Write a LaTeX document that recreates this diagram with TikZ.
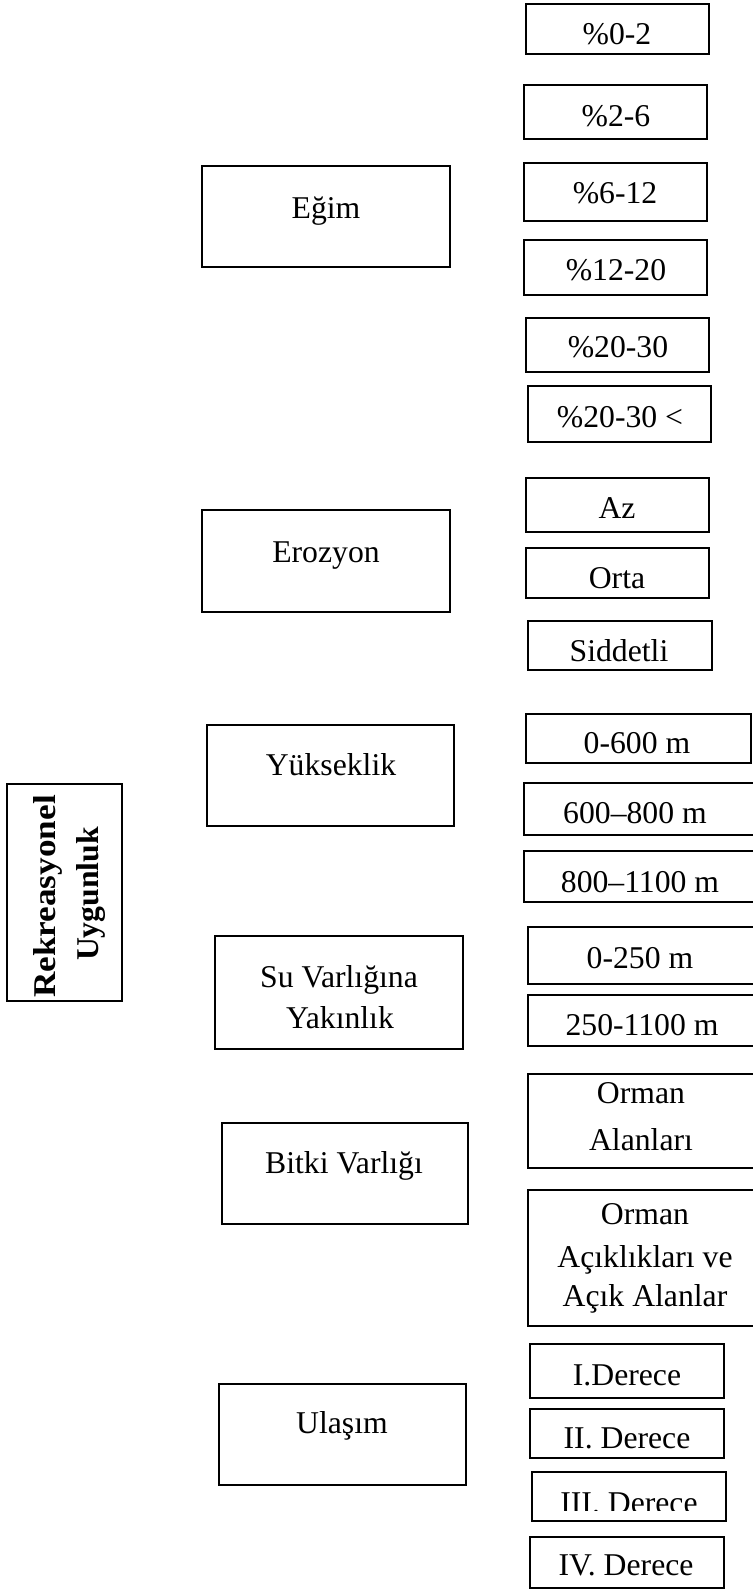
\documentclass[tikz,border=0pt]{standalone}
\usepackage{fontspec}
\usepackage{graphicx}
\setmainfont{Liberation Serif}
\tikzset{
  box/.style={draw=black, line width=0.6pt, inner sep=0pt, outer sep=0pt},
  txt/.style={font=\fontsize{15.85pt}{20pt}\selectfont, inner sep=0pt, anchor=base},
  btxt/.style={font=\fontsize{15.85pt}{20pt}\selectfont\bfseries, inner sep=0pt, anchor=base, rotate=90},
}
\newcommand\bx[5]{\node[box, minimum width={(#4-#2)*0.5pt}, minimum height={(#5-#3)*0.5pt}] (#1) at ({(#2+#4)/2},{(#3+#5)/2}) {};}
\begin{document}
\begin{tikzpicture}[x=0.5pt, y=-0.5pt]
\useasboundingbox (0,0) rectangle (753,1590);
% left column
\bx{rek}{7}{784}{122}{1001}
\bx{egim}{202}{166}{450}{267}
\bx{eroz}{202}{510}{450}{612}
\bx{yuk}{207}{725}{454}{826}
\bx{su}{215}{936}{463}{1049}
\bx{bitki}{222}{1123}{468}{1224}
\bx{ulasim}{219}{1384}{466}{1485}
% right column
\bx{e1}{526}{4}{709}{54}
\bx{e2}{524}{85}{707}{139}
\bx{e3}{524}{163}{707}{221}
\bx{e4}{524}{240}{707}{295}
\bx{e5}{526}{318}{709}{372}
\bx{e6}{528}{386}{711}{442}
\bx{r1}{526}{478}{709}{532}
\bx{r2}{526}{548}{709}{598}
\bx{r3}{528}{621}{712}{670}
\bx{y1}{526}{714}{751}{763}
\bx{y2}{524}{783}{760}{835}
\bx{y3}{524}{851}{760}{902}
\bx{s1}{528}{927}{760}{984}
\bx{s2}{528}{995}{760}{1046}
\bx{b1}{528}{1074}{760}{1168}
\bx{b2}{528}{1190}{760}{1326}
\bx{u1}{530}{1344}{724}{1398}
\bx{u2}{530}{1409}{724}{1458}
\bx{u3}{532}{1472}{726}{1521}
\bx{u4}{530}{1537}{724}{1588}
% left texts
\node[btxt] (rek-t1) at (55,896.5) {\scalebox{1.11}[1]{Rekreasyonel}};
\node[btxt] (rek-t2) at (98,894) {Uygunluk};
\node[txt] (egim-t) at (326,218) {Eğim};
\node[txt] (eroz-t) at (326,562) {Erozyon};
\node[txt] (yuk-t) at (331,775) {Yükseklik};
\node[txt] (su-t1) at (339,987) {Su Varlığına};
\node[txt] (su-t2) at (340,1028) {Yakınlık};
\node[txt] (bitki-t) at (344,1173) {Bitki Varlığı};
\node[txt] (ulasim-t) at (342,1433) {Ulaşım};
% right texts
\node[txt] (e1-t) at (617,44) {\%0-2};
\node[txt] (e2-t) at (616,126) {\%2-6};
\node[txt] (e3-t) at (615,203) {\%6-12};
\node[txt] (e4-t) at (616,280) {\%12-20};
\node[txt] (e5-t) at (618,357) {\%20-30};
\node[txt] (e6-t) at (620,427) {\%20-30 <};
\node[txt] (r1-t) at (617,518) {Az};
\node[txt] (r2-t) at (617,588) {Orta};
\node[txt] (r3-t) at (619,661) {Siddetli};
\node[txt] (y1-t) at (637,753) {0-600 m};
\node[txt] (y2-t) at (635,823) {600–800 m};
\node[txt] (y3-t) at (640,892) {800–1100 m};
\node[txt] (s1-t) at (640,968) {0-250 m};
\node[txt] (s2-t) at (642,1035) {250-1100 m};
\node[txt] (b1-t1) at (641,1103) {Orman};
\node[txt] (b1-t2) at (641,1150) {Alanları};
\node[txt] (b2-t1) at (645,1224) {Orman};
\node[txt] (b2-t2) at (645,1267) {Açıklıkları ve};
\node[txt] (b2-t3) at (645,1306) {Açık Alanlar};
\node[txt] (u1-t) at (627,1385) {I.Derece};
\node[txt] (u2-t) at (627,1448) {II. Derece};
\begin{scope}
\clip (532,1472) rectangle (726,1510);
\node[txt] (u3-t) at (629,1513) {III. Derece};
\end{scope}
\node[txt] (u4-t) at (626,1575) {IV. Derece};
\end{tikzpicture}
\end{document}
